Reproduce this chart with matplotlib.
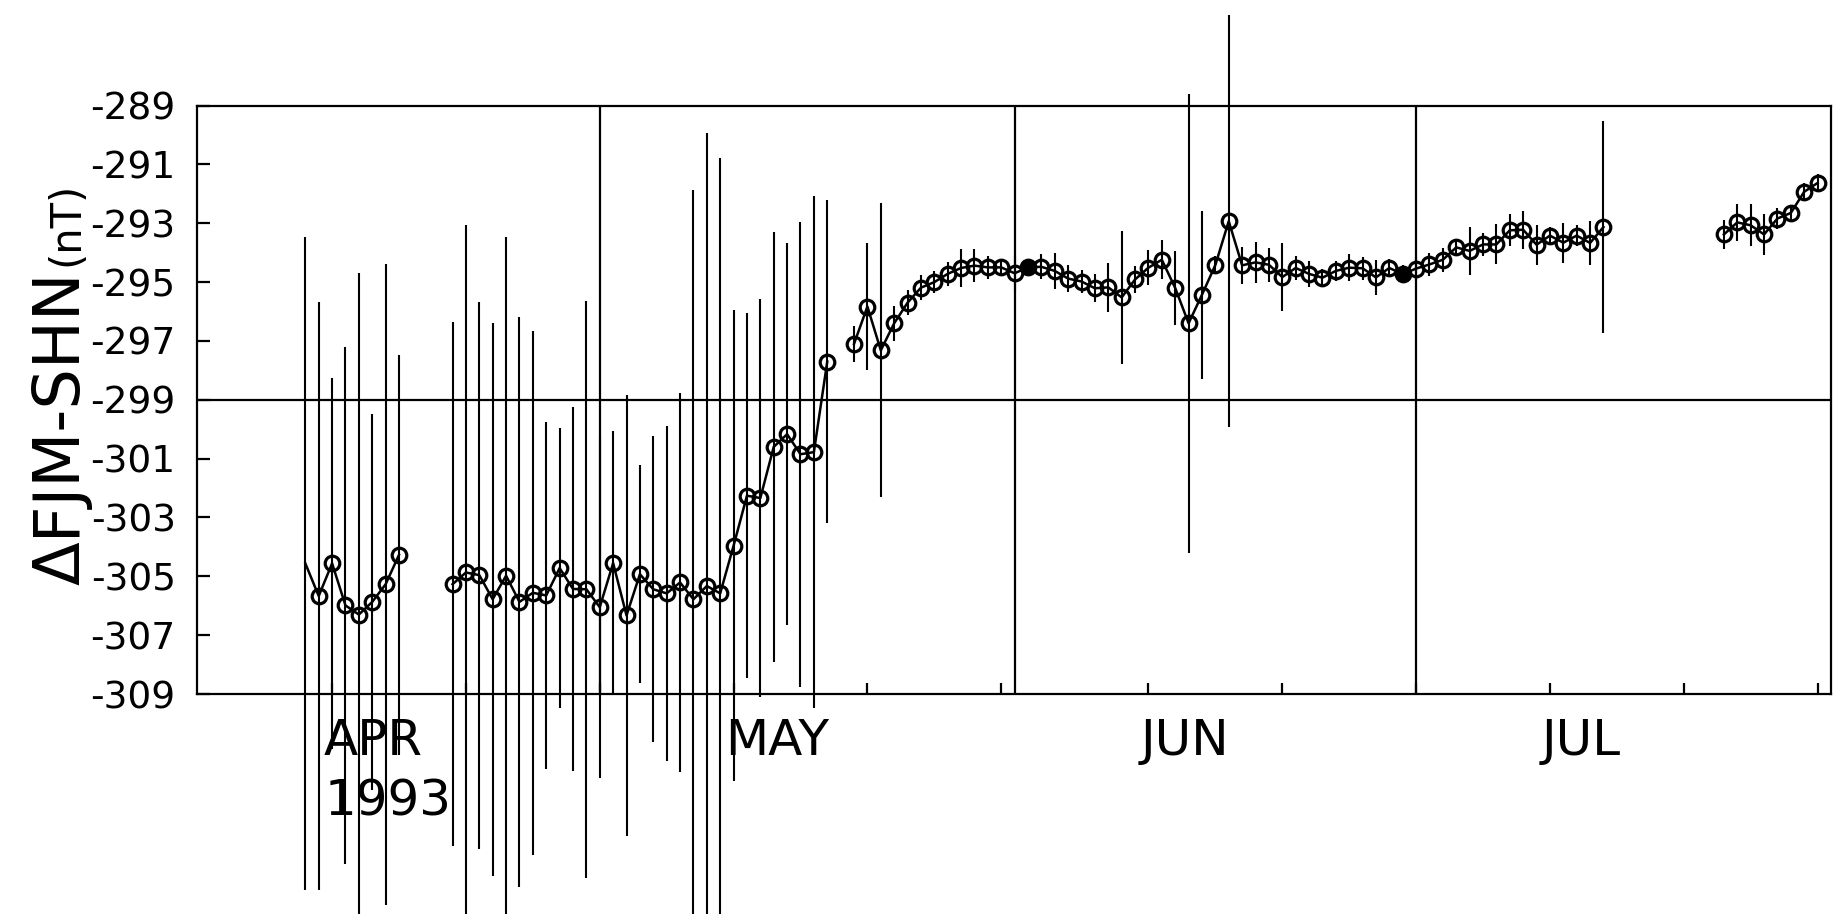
import numpy as np
import matplotlib.pyplot as plt
import matplotlib.transforms as mtransforms

plt.rcParams["font.family"] = "DejaVu Sans"
plt.rcParams["axes.unicode_minus"] = False

# day numbers counted from 31 Mar 1993 (1 = Apr 1, 31 = May 1, 62 = Jun 1, 92 = Jul 1)
days_a = [-1, 0, 1, 2, 3, 4, 5, 6]
vals_a = [-304.56, -305.67, -304.56, -305.99, -306.30, -305.87, -305.27, -304.27]
errs_a = [11.1, 10.0, 6.3, 8.8, 11.6, 6.4, 10.9, 6.8]

days_b = list(range(10, 39))
vals_b = [-305.27, -304.87, -304.96, -305.78, -304.98, -305.87, -305.56, -305.65,
          -304.72, -305.43, -305.44, -306.05, -304.55, -306.33, -304.93, -305.44,
          -305.58, -305.21, -305.78, -305.33, -305.58, -303.96, -302.26, -302.34,
          -300.60, -300.17, -300.85, -300.78, -297.70]
errs_b = [8.9, 11.8, 9.3, 9.4, 11.5, 9.7, 8.9, 5.9, 4.75, 6.2, 9.8, 5.8, 4.5, 7.5,
          3.7, 5.2, 5.7, 6.45, 13.9, 15.4, 14.8, 8.0, 6.2, 6.75, 7.3, 6.5, 7.9, 8.7, 5.5]

days_c = list(range(40, 97))
vals_c = [-297.10, -295.83, -297.32, -296.40, -295.70, -295.19, -295.00, -294.72,
          -294.52, -294.44, -294.50, -294.50, -294.70, -294.50, -294.48, -294.62,
          -294.88, -294.98, -295.21, -295.18, -295.52, -294.91, -294.51, -294.24,
          -295.20, -296.40, -295.43, -294.42, -292.93, -294.43, -294.33, -294.41,
          -294.83, -294.52, -294.72, -294.85, -294.62, -294.51, -294.53, -294.84,
          -294.52, -294.73, -294.54, -294.40, -294.24, -293.82, -293.94, -293.72,
          -293.72, -293.24, -293.22, -293.73, -293.42, -293.66, -293.42, -293.67,
          -293.13]
errs_c = [0.6, 2.17, 5.0, 0.6, 0.42, 0.42, 0.38, 0.4, 0.63, 0.57, 0.38, 0.3, 0.6,
          0.3, 0.42, 0.6, 0.45, 0.4, 0.48, 0.83, 2.27, 0.45, 0.6, 0.67, 1.27, 7.8,
          2.85, 0.3, 7.0, 0.62, 0.7, 0.58, 1.16, 0.4, 0.44, 0.3, 0.35, 0.45, 0.4,
          0.6, 0.3, 0.3, 0.38, 0.4, 0.4, 0.27, 0.82, 0.38, 0.68, 0.54, 0.65, 0.68,
          0.28, 0.68, 0.37, 0.74, 3.6]

days_d = list(range(105, 113))
vals_d = [-293.38, -292.97, -293.07, -293.38, -292.84, -292.65, -291.93, -291.63]
errs_d = [0.48, 0.64, 0.72, 0.69, 0.37, 0.27, 0.31, 0.3]

filled_days = [53, 81]

month_names = ["APR", "MAY", "JUN", "JUL"]
month_starts = [1, 31, 62, 92]
tick_days = [1, 11, 21, 31, 41, 51, 62, 72, 82, 92, 102, 112]
grid_days = [21, 52, 82]
y_ticks = list(range(-309, -288, 2))

fig = plt.figure(figsize=(18.35, 9.14), dpi=100)
ax = fig.add_axes([0.1071, 0.2407, 0.8907, 0.6438])

lw = 1.6
for ax_line in ax.spines.values():
    ax_line.set_linewidth(lw)

ax.axhline(-299, color="black", lw=lw, zorder=1)
for g in grid_days:
    ax.axvline(g, color="black", lw=lw, zorder=1)

groups = [(days_a, vals_a, errs_a), (days_b, vals_b, errs_b),
          (days_c, vals_c, errs_c), (days_d, vals_d, errs_d)]
for i, (d, v, e) in enumerate(groups):
    ax.plot(d, v, color="black", lw=1.8, zorder=3, clip_on=False)
    cont = ax.errorbar(d, v, yerr=e, fmt="none", ecolor="black",
                       elinewidth=1.5, capsize=0, zorder=2)
    for bl in cont[2]:
        bl.set_clip_on(False)
    mk = ax.plot(d, v, ls="none", marker="o", ms=10.5, mfc="none", mec="black",
                 mew=2.3, zorder=4, clip_on=False)[0]
    if i == 0:
        mk.set_markevery(list(range(1, len(d))))

all_days = days_a + days_b + days_c + days_d
all_vals = vals_a + vals_b + vals_c + vals_d
fx = [dd for dd in all_days if dd in filled_days]
fy = [all_vals[all_days.index(dd)] for dd in fx]
ax.plot(fx, fy, ls="none", marker="o", ms=10.5, mfc="black", mec="black", zorder=5)

ax.set_xlim(-9.13, 113.0)
ax.set_ylim(-309, -289)
ax.set_xticks(tick_days)
ax.set_xticklabels([])
ax.set_yticks(y_ticks)
ax.set_yticklabels([str(t) for t in y_ticks])
ax.tick_params(axis="x", direction="in", length=8, width=lw, bottom=True, top=False)
ax.tick_params(axis="y", direction="in", length=9, width=lw, labelsize=27, pad=15,
               left=True, right=False)

trans = mtransforms.blended_transform_factory(ax.transData, fig.transFigure)
for name, start in zip(month_names, month_starts):
    ax.text(start - 0.6, 0.174, name, transform=trans, ha="left", va="baseline",
            fontsize=36, color="black")
ax.text(month_starts[0] - 0.6, 0.108, "1993", transform=trans, ha="left",
        va="baseline", fontsize=36, color="black")

fig.text(0.0434, 1 - 585 / 914, "ΔFJM-SHN", rotation=90, rotation_mode="anchor",
         ha="left", va="baseline", fontsize=46)
fig.text(0.0425, 1 - 266 / 914, "(nT)", rotation=90, rotation_mode="anchor",
         ha="left", va="baseline", fontsize=30)

fig.savefig("out.png", dpi=100, facecolor="white")
